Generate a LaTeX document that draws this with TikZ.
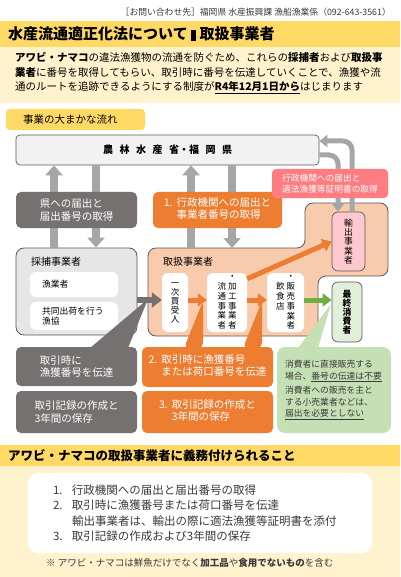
\documentclass[tikz,border=0pt]{standalone}
\usepackage{fontspec}
\setmainfont{Noto Sans CJK JP}
\usetikzlibrary{arrows.meta,positioning,calc}
\definecolor{bandyellow}{HTML}{FFD966}
\definecolor{cream}{HTML}{FFF2CC}
\definecolor{darkbox}{HTML}{767171}
\definecolor{orangebox}{HTML}{ED7D31}
\definecolor{peach}{HTML}{F8CBAD}
\definecolor{lightgray}{HTML}{E7E6E6}
\definecolor{palegray}{HTML}{F2F2F2}
\definecolor{edgegray}{HTML}{595959}
\definecolor{arrowgray}{HTML}{A6A6A6}
\definecolor{salmon}{HTML}{FF7C80}
\definecolor{exportpink}{HTML}{FFC7CE}
\definecolor{finalgreen}{HTML}{E2EFDA}
\definecolor{bubblegreen}{HTML}{C5E0B4}
\definecolor{arrowgreen}{HTML}{70AD47}
\definecolor{textgray}{HTML}{3A3A3A}
\newcommand\ksp{\hspace{6.5pt}}
\tikzset{
  flowbox/.style={rounded corners=5pt, align=left, inner sep=0pt, font=\fontsize{10.5}{12.5}\selectfont, text=white},
  graybox/.style={flowbox, fill=darkbox},
  orangebox/.style={flowbox, fill=orangebox},
  grpbox/.style={draw=edgegray, line width=0.8pt, rounded corners=8pt},
  whitebox/.style={fill=white, rounded corners=6pt, inner sep=0pt, font=\fontsize{8.8}{10.5}\selectfont},
  vbox/.style={fill=white, rounded corners=6pt, inner sep=0pt, align=center, font=\fontsize{8.5}{9}\selectfont},
  endbox/.style={draw=edgegray, line width=0.7pt, rounded corners=6pt, inner sep=0pt, align=center, font=\fontsize{8.8}{9.3}\selectfont},
  garrow/.style={-{Triangle[width=17pt,length=10pt]}, line width=8pt, draw=arrowgray},
  loparrow/.style={-{Triangle[width=12pt,length=8pt]}, line width=5pt, draw=arrowgray, rounded corners=9pt},
  darrow/.style={-{Triangle[width=15pt,length=10pt]}, line width=6pt, draw=darkbox},
  oarrow/.style={-{Triangle[width=13pt,length=9pt]}, line width=5pt, draw=orangebox},
  grarrow/.style={-{Triangle[width=13pt,length=9pt]}, line width=5pt, draw=arrowgreen}
}

\begin{document}
\begin{tikzpicture}[x=1pt,y=-1pt]
\useasboundingbox (0,0) rectangle (400,577);
% bands
\fill[white] (0,0) rectangle (400,577);
\fill[bandyellow] (0,21) rectangle (400,47);
\fill[cream] (0,47) rectangle (400,103);
\fill[bandyellow] (0,445) rectangle (400,466);
\fill[cream] (0,466) rectangle (400,577);

\node[anchor=east, inner sep=0pt, text=textgray, font=\fontsize{8.8}{10}\selectfont] (contact) at (391,12) {［お問い合わせ先］福岡県 水産振興課 漁船漁業係（092-643-3561）};
\node[anchor=west, inner sep=0pt, font=\fontsize{15}{17}\selectfont\bfseries] (title) at (8,34) {水産流通適正化法について \rule[-1pt]{5pt}{11pt} 取扱事業者};
\node[anchor=north west, inner sep=0pt, align=left, font=\fontsize{10.5}{14.5}\selectfont] (intro) at (15,52.5) {\textbf{アワビ・ナマコ}の違法漁獲物の流通を防ぐため、これらの\textbf{採捕者}および\textbf{取扱事}\\\textbf{業者}に番号を取得してもらい、取引時に番号を伝達していくことで、漁獲や流\\通のルートを追跡できるようにする制度が\underline{\textbf{R4年12月1日から}}はじまります};

\node[fill=bandyellow, rounded corners=4pt, minimum width=139pt, minimum height=21pt, inner sep=0pt, text width=105pt, font=\fontsize{10.5}{12.5}\selectfont] (flowlbl) at (75.5,119.5) {事業の大まかな流れ};
\node[draw=edgegray, fill=palegray, line width=0.7pt, rounded corners=4pt, minimum width=303pt, minimum height=30pt, inner sep=0pt, font=\fontsize{10}{12}\selectfont\bfseries] (maff) at (167.5,150) {農\ksp{}林\ksp{}水\ksp{}産\ksp{}省・福\ksp{}岡\ksp{}県};

% arrow columns
\coordinate (upS) at (54,0);
\coordinate (dnS) at (96,0);
\coordinate (upT) at (191,0);
\coordinate (dnT) at (232,0);
\coordinate (dnE) at (338,0);
\coordinate (upE) at (352,0);
\coordinate (flowY) at (0,300);
\coordinate (tori) at (148,248);

% groups
\node[grpbox, fill=lightgray, minimum width=121pt, minimum height=87pt] (saiho) at (76.5,291.5) {};
\draw[grpbox, fill=peach] (148,290) -- (148,248) -- (305,248) -- (305,203) -- (388,203) -- (388,276) -- (318,276) -- (318,336) -- (148,336) -- cycle;
\node[anchor=west, inner sep=0pt, font=\fontsize{10}{12}\selectfont] (saihoT) at (31,262) {採捕事業者};
\node[anchor=west, inner sep=0pt, font=\fontsize{10}{12}\selectfont] (toriT) at (163,262) {取扱事業者};

\node[whitebox, minimum width=88pt, minimum height=25pt, text width=64pt, align=left] (gyogyo) at (74,284.5) {漁業者};
\node[whitebox, minimum width=88pt, minimum height=28pt, text width=64pt, align=left] (kyodo) at (74,316) {共同出荷を行う\\漁協};

\node[vbox, minimum width=26pt, minimum height=59pt] (ichiji) at (175,302.5) {一\\次\\買\\受\\人};
\node[vbox, minimum width=40pt, minimum height=59pt] (kako) at (227,302.5) {\begin{tabular}{@{}c@{\hspace{2pt}}c@{}} &・\\流&加\\通&工\\事&事\\業&業\\者&者\end{tabular}};
\node[vbox, minimum width=37pt, minimum height=59pt] (hanbai) at (285.5,302.5) {\begin{tabular}{@{}c@{\hspace{2pt}}c@{}} &・\\飲&販\\食&売\\店&事\\ &業\\ &者\end{tabular}};
\node[endbox, fill=exportpink, minimum width=33pt, minimum height=59pt] (export) at (348.5,241.5) {輸\\出\\事\\業\\者};
\node[endbox, fill=finalgreen, minimum width=30pt, minimum height=60pt, font=\fontsize{8.8}{9}\selectfont\bfseries] (final) at (347,312) {最\\終\\消\\費\\者};

% links to the ministry
\draw[garrow] (saiho.north -| upS) -- (maff.south -| upS);
\draw[garrow] (maff.south -| dnS) -- (saiho.north -| dnS);
\draw[garrow] (tori -| upT) -- (maff.south -| upT);
\draw[garrow] (maff.south -| dnT) -- (tori -| dnT);
\draw[loparrow] (export.north -| upE) |- ([yshift=9pt]maff.east);
\draw[loparrow] ([yshift=-5pt]maff.east) -| (export.north -| dnE);

\node[graybox, minimum width=121pt, minimum height=36pt] (kenbox) at (76.5,210) {県への届出と\\届出番号の取得};
\node[orangebox, minimum width=129pt, minimum height=36pt] (gyosei) at (217.5,210) {\begin{tabular}{@{}l@{\hspace{4pt}}l@{}}1.&行政機関への届出と\\&事業者番号の取得\end{tabular}};
\node[flowbox, fill=salmon, rounded corners=4pt, minimum width=116pt, minimum height=29pt, font=\fontsize{8.7}{10.5}\selectfont] (certlbl) at (330,183.5) {行政機関への届出と\\適法漁獲等証明書の取得};

% callouts
\fill[darkbox] (90,348) -- (148,299) -- (128,348) -- cycle;
\fill[orangebox] (184,348) -- (203,301) -- (203,348) -- cycle;
\fill[orangebox] (243,348) -- (262,301) -- (262,348) -- cycle;
\fill[bubblegreen] (298,348) -- (331,304) -- (318,348) -- cycle;
\node[graybox, minimum width=121pt, minimum height=39pt] (gdent) at (76.5,366.5) {取引時に\\漁獲番号を伝達};
\node[graybox, minimum width=121pt, minimum height=42pt] (grec) at (76.5,412) {取引記録の作成と\\3年間の保存};
\node[orangebox, minimum width=131pt, minimum height=40pt] (odent) at (207.5,367) {\begin{tabular}{@{}l@{\hspace{4pt}}l@{}}2.&取引時に漁獲番号\\&または荷口番号を伝達\end{tabular}};
\node[orangebox, minimum width=131pt, minimum height=42pt] (orec) at (207.5,412) {\begin{tabular}{@{}l@{\hspace{4pt}}l@{}}3.&取引記録の作成と\\&3年間の保存\end{tabular}};
\node[flowbox, fill=bubblegreen, rounded corners=8pt, text=textgray, minimum width=114pt, minimum height=86pt, text width=98pt, font=\fontsize{8.8}{11.5}\selectfont] (gnote) at (334,390) {消費者に直接販売する\\場合、\underline{番号の伝達は不要}\\[3pt]消費者への販売を主と\\する小売業者などは、\\\underline{届出を必要としない}};

% flow
\draw[darrow] (saiho.east |- flowY) -- (ichiji.west |- flowY);
\draw[oarrow] (ichiji.east |- flowY) -- (kako.west |- flowY);
\draw[oarrow] (kako.east |- flowY) -- (hanbai.west |- flowY);
\draw[oarrow] ([yshift=-6pt]kako.north east) -- (export.west);
\draw[grarrow] (hanbai.east |- flowY) -- (final.west |- flowY);

% duties
\node[anchor=west, inner sep=0pt, font=\fontsize{12.5}{14}\selectfont\bfseries] (dutyT) at (8,455.5) {アワビ・ナマコの取扱事業者に義務付けられること};
\node[fill=white, rounded corners=10pt, minimum width=344pt, minimum height=80pt, inner sep=0pt, text width=294pt, align=left, text=textgray, font=\fontsize{11.5}{15.5}\selectfont] (duties) at (200,513) {\makebox[19pt][l]{1.}行政機関への届出と届出番号の取得\\\makebox[19pt][l]{2.}取引時に漁獲番号または荷口番号を伝達\\\hspace*{19pt}輸出事業者は、輸出の際に適法漁獲等証明書を添付\\\makebox[19pt][l]{3.}取引記録の作成および3年間の保存};
\node[anchor=west, inner sep=0pt, text=textgray, font=\fontsize{9.5}{11}\selectfont] (note) at (46,563) {※ アワビ・ナマコは鮮魚だけでなく\textbf{加工品}や\textbf{食用でないもの}を含む};
\end{tikzpicture}
\end{document}
